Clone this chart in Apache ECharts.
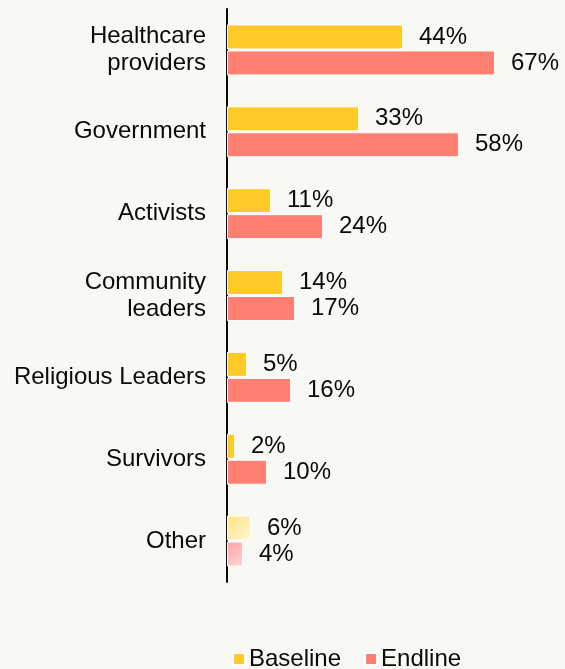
<!DOCTYPE html>
<html><head><meta charset="utf-8">
<script src="https://cdn.jsdelivr.net/npm/echarts@6/dist/echarts.min.js"></script>
<style>html,body{margin:0;padding:0;background:#F8F8F4;}#c{width:565px;height:669px;}</style>
</head><body><div id="c"></div>
<script>
var categories = ['Healthcare\nproviders','Government','Activists','Community\nleaders','Religious Leaders','Survivors','Other'];
var baseline = [44,33,11,14,5,2,6];
var endline = [67,58,24,17,16,10,4];
var seriesNames = ['Baseline','Endline'];
var colors = ['#FFCA28','#FF7F73'];
var fadedIndex = 6;

function grad(c1,c2){return new echarts.graphic.LinearGradient(0,0,1,1,[{offset:0,color:c1},{offset:1,color:c2}]);}
function mk(vals, fadeA, fadeB){
  return vals.map(function(v,i){
    if(i===fadedIndex) return {value:v,itemStyle:{color:grad(fadeA,fadeB)}};
    return v;
  });
}
var chart = echarts.init(document.getElementById('c'));
var font = 'Liberation Sans, Arial, sans-serif';
var lbl = {show:true,position:'right',distance:16,formatter:'{c}%',color:'#0a0a0a',fontSize:24,fontFamily:font};
chart.setOption({
  backgroundColor:'#F8F8F4',
  animation:false,
  grid:{left:227,top:9,width:320,height:573,containLabel:false},
  xAxis:{type:'value',min:0,max:80,show:false},
  yAxis:{type:'category',data:categories,inverse:true,
    axisLine:{show:true,lineStyle:{color:'#0a0a0a',width:2}},
    axisTick:{show:false},
    axisLabel:{color:'#0a0a0a',fontSize:24,fontFamily:font,margin:21,lineHeight:27,align:'right'}},
  legend:{top:642,left:227,itemWidth:12,itemHeight:12,itemGap:23,icon:'rect',
    textStyle:{color:'#0a0a0a',fontSize:24,fontFamily:font,padding:[0,0,0,-1]},data:seriesNames},
  series:[
    {name:seriesNames[0],type:'bar',data:mk(baseline,'#FFE27F','#FFF6D6'),itemStyle:{color:colors[0],borderColor:'#ffffff',borderWidth:1},
     barWidth:25,barGap:'4%',label:lbl},
    {name:seriesNames[1],type:'bar',data:mk(endline,'#FFA3A0','#FFD6D4'),itemStyle:{color:colors[1],borderColor:'#ffffff',borderWidth:1},
     barWidth:25,barGap:'4%',label:lbl}
  ]
});
</script></body></html>
